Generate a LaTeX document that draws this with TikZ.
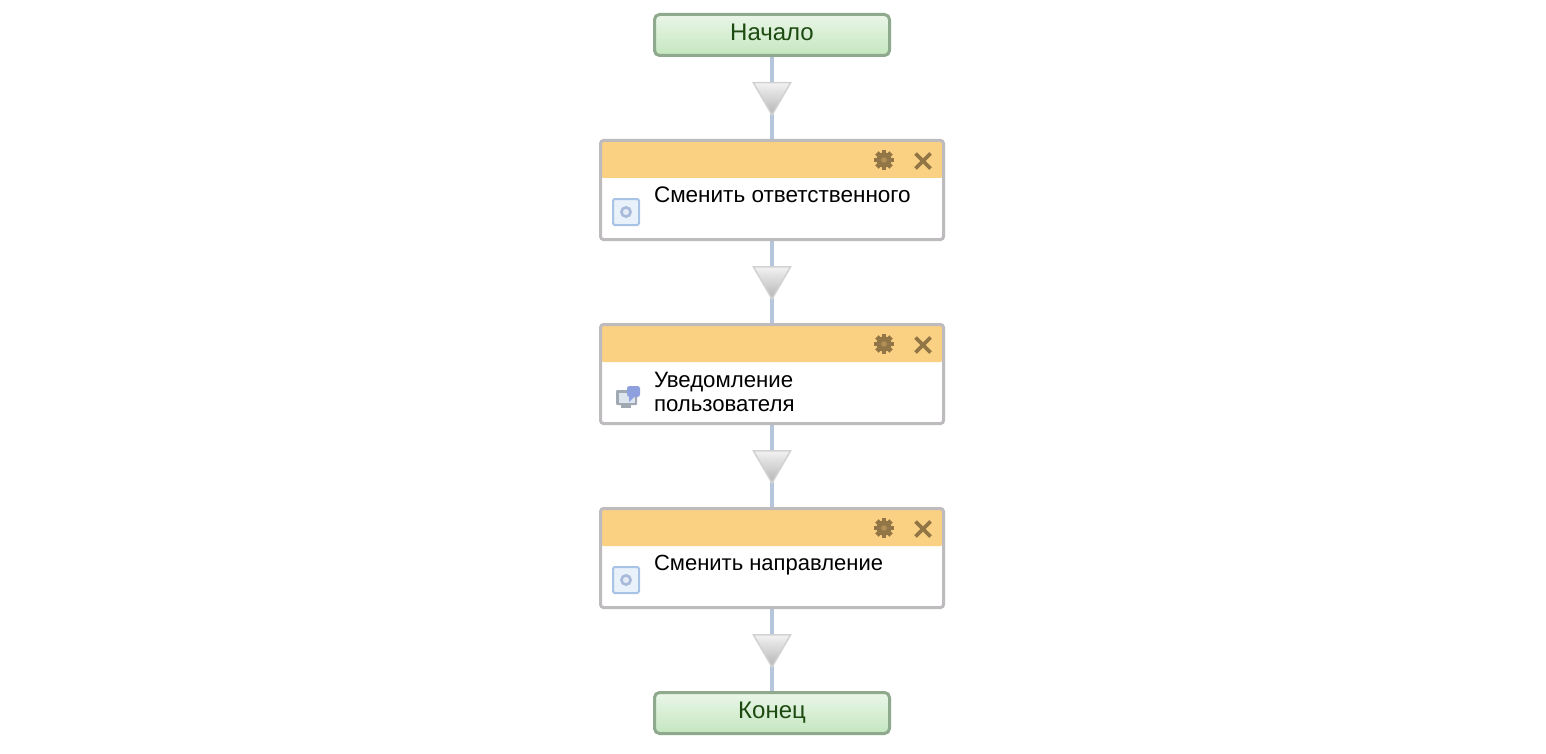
\documentclass[tikz,border=0pt]{standalone}
\usepackage{fontspec}
\setmainfont{Liberation Sans}
\usetikzlibrary{shapes.geometric,calc,backgrounds}
\definecolor{connC}{HTML}{B4C5DC}
\definecolor{startB}{HTML}{8FA98C}
\definecolor{startT}{HTML}{EAF6E8}
\definecolor{startL}{HTML}{C4E6BF}
\definecolor{startX}{HTML}{1D4A10}
\definecolor{taskB}{HTML}{BDBBBD}
\definecolor{hdr}{HTML}{FAD083}
\definecolor{ctrl}{HTML}{937645}
\definecolor{triB}{HTML}{D2D2D2}
\definecolor{triT}{HTML}{F2F2F2}
\definecolor{triL}{HTML}{B4B4B4}
\definecolor{iconB}{HTML}{A9C3E6}
\definecolor{iconF}{HTML}{E9F1FB}
\definecolor{iconR}{HTML}{A8BADA}
\definecolor{iconC}{HTML}{E6ECF7}
\definecolor{monG}{HTML}{A0A8B2}
\definecolor{monS}{HTML}{DCE5EE}
\definecolor{bubB}{HTML}{8FA0DE}
\tikzset{
  x=1pt,y=-1pt,
  every node/.style={inner sep=0pt,outer sep=0pt},
  endbox/.style={draw=startB,line width=3pt,rounded corners=5pt,minimum width=235pt,minimum height=41pt,
    top color=startT,bottom color=startL,text=startX,font=\fontsize{24}{26}\selectfont},
  taskbox/.style={draw=taskB,line width=3pt,rounded corners=3pt,minimum width=343pt,minimum height=99pt,fill=white,
    path picture={\fill[hdr] (path picture bounding box.north west) rectangle ([yshift=-37.5pt]path picture bounding box.north east);}},
  tri/.style={regular polygon,regular polygon sides=3,shape border rotate=180,minimum size=43pt,draw=triB,line width=1.5pt,
    top color=triT,bottom color=triL},
  conn/.style={draw=connC,line width=4pt},
  tasklabel/.style={anchor=base west,align=left,text=black,font=\fontsize{22.5}{24}\selectfont},
  ctrlx/.style={draw=ctrl,line width=3.6pt},
  pics/gear/.style={code={
    \fill[ctrl] (0,0) circle (7.6pt);
    \foreach \a in {0,45,...,315}{\fill[ctrl,rotate=\a] (-2.4,-10) rectangle (2.4,-5);}
    \fill[hdr!30!ctrl] (0,0) circle (2.8pt);
  }},
  pics/closex/.style={code={
    \draw[ctrlx] (-7.5,-7.5) -- (7.5,7.5);
    \draw[ctrlx] (-7.5,7.5) -- (7.5,-7.5);
  }},
  pics/settask/.style={code={
    \draw[draw=iconB,fill=iconF,line width=2pt,rounded corners=2pt] (-13,-13) rectangle (13,13);
    \draw[draw=iconR,fill=iconC,line width=2.6pt] (0,0) circle (4.6pt);
  }},
  pics/notify/.style={code={
    \fill[monG,rounded corners=1pt] (-11,-7) rectangle (10,8);
    \fill[monS] (-8.5,-4.5) rectangle (7.5,5.5);
    \fill[monG] (-6,8) rectangle (4,11);
    \fill[bubB,rounded corners=2.5pt] (0,-11) rectangle (13,0);
    \fill[bubB] (2,-1) -- (8,-1) -- (2,5) -- cycle;
  }}
}
\begin{document}
\begin{tikzpicture}
\useasboundingbox (0,0) rectangle (1546,754);
\node[endbox] (start) at (772,35) {\raisebox{6pt}{Начало}};
\node[taskbox] (task1) at (772,190) {};
\node[taskbox] (task2) at (772,374) {};
\node[taskbox] (task3) at (772,558) {};
\node[endbox] (finish) at (772,713) {\raisebox{3pt}{Конец}};
\node[tri] (tri1) at (772,93.5) {};
\node[tri] (tri2) at (772,277.5) {};
\node[tri] (tri3) at (772,461.5) {};
\node[tri] (tri4) at (772,645.5) {};
\begin{scope}[on background layer]
\fill[white] (0,0) rectangle (1546,754);
\draw[conn] (start.south) -- (tri1.center);
\draw[conn] (tri1.center) -- (task1.north);
\draw[conn] (task1.south) -- (tri2.center);
\draw[conn] (tri2.center) -- (task2.north);
\draw[conn] (task2.south) -- (tri3.center);
\draw[conn] (tri3.center) -- (task3.north);
\draw[conn] (task3.south) -- (tri4.center);
\draw[conn] (tri4.center) -- (finish.north);
\end{scope}
\node[tasklabel] (label1) at (654,202) {Сменить ответственного};
\node[tasklabel,font=\fontsize{22.2}{24}\selectfont] (label2) at (654,411) {Уведомление\\[0pt]пользователя};
\node[tasklabel,font=\fontsize{22}{24}\selectfont] (label3) at (654,570) {Сменить направление};
\foreach \y in {160,344,528}{
  \pic at (884,\y) {gear};
  \pic at (923,\y+1) {closex};
}
\pic at (626,212) {settask};
\pic at (627,397) {notify};
\pic at (626,580) {settask};
\end{tikzpicture}
\end{document}
